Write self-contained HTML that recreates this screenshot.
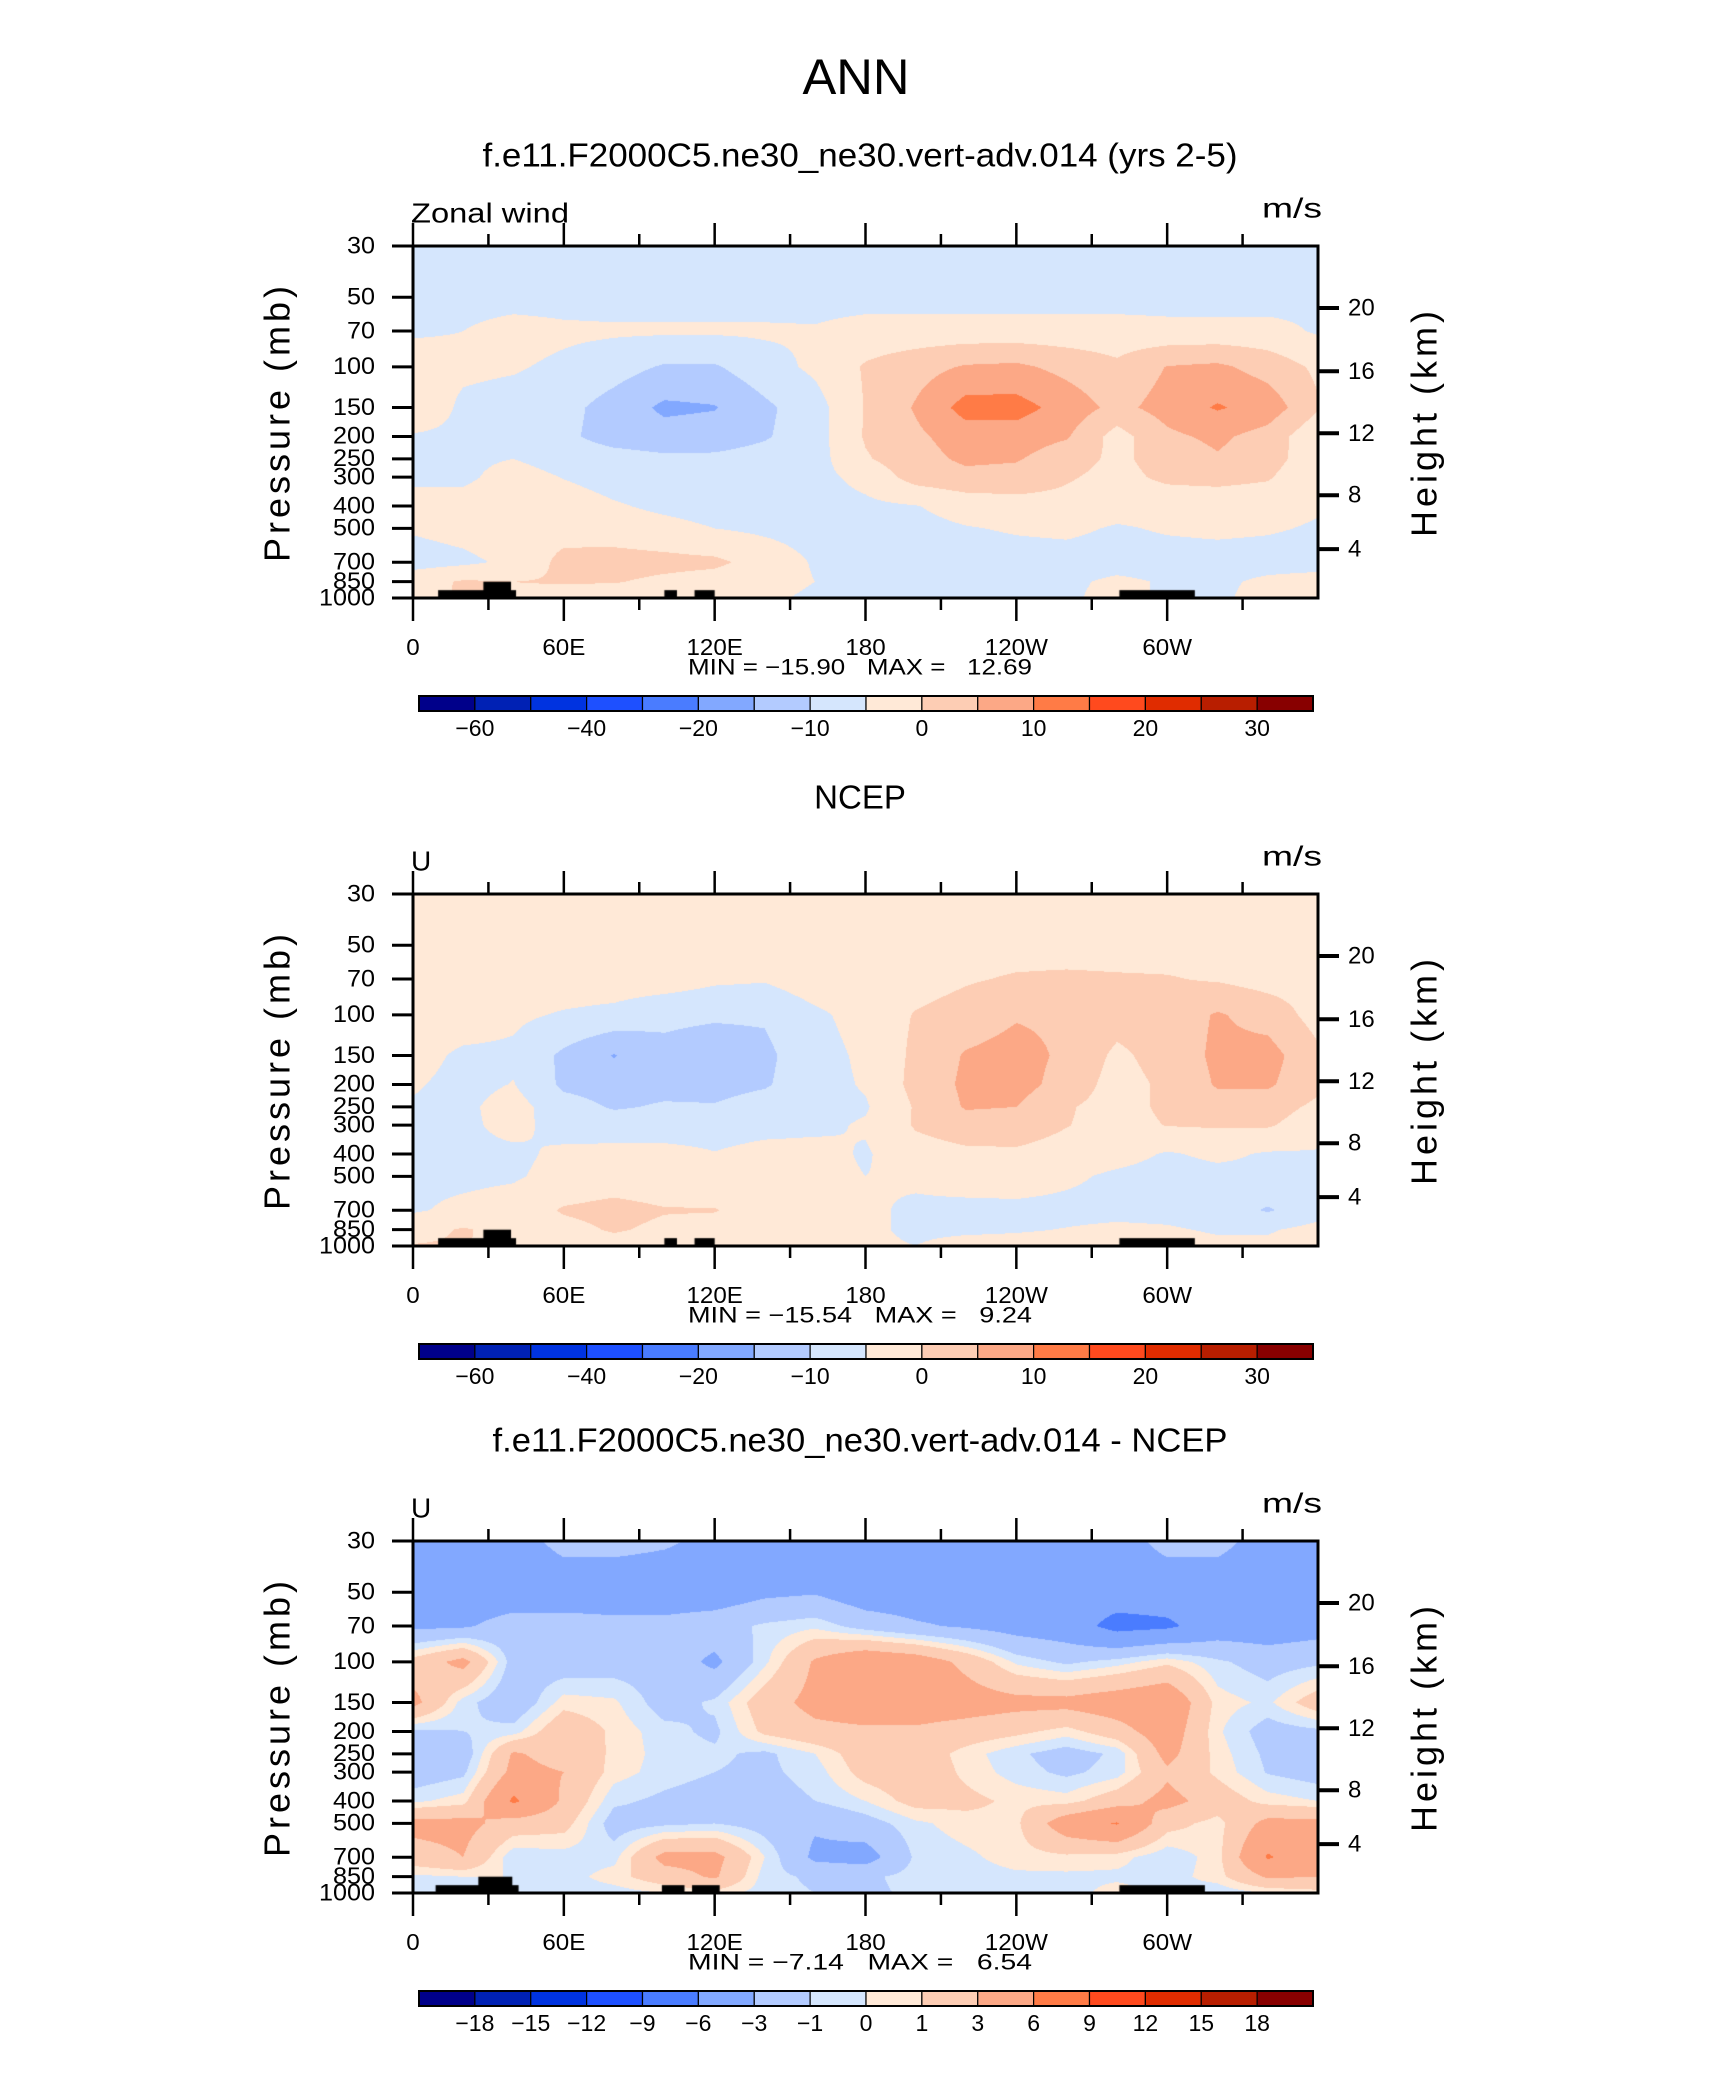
<!DOCTYPE html>
<html><head><meta charset="utf-8">
<style>
html,body{margin:0;padding:0;background:#fff;}
#wrap{position:relative;width:1710px;height:2074px;overflow:hidden;}
canvas{position:absolute;}
svg{position:absolute;left:0;top:0;}
text{font-family:"Liberation Sans",sans-serif;fill:#000;}
</style></head>
<body>
<div id="wrap">
<canvas id="c0" width="905" height="352" style="left:413px;top:246px"></canvas>
<canvas id="c1" width="905" height="352" style="left:413px;top:894px"></canvas>
<canvas id="c2" width="905" height="352" style="left:413px;top:1541px"></canvas>
<svg id="ov" width="1710" height="2074"></svg>
</div>
<script>
// ---- data ----
const lons = [0,20,40,60,80,100,120,140,160,180,200,220,240,260,280,300,320,340,360];
const levels = [30,50,70,100,150,200,250,300,400,500,700,850,1000];
const xTickLabels = ["0","60E","120E","180","120W","60W"];
const xTickLons = [0,60,120,180,240,300];
const pTickLabels = [30,50,70,100,150,200,250,300,400,500,700,850,1000];
const kmTicks = [20,16,12,8,4];
const kmFrac = [0.176,0.356,0.532,0.708,0.861];
const levelsMain = [-60,-50,-40,-30,-20,-15,-10,-5,0,5,10,15,20,25,30];
const labelsMain = ["-60","-40","-20","-10","0","10","20","30"];
const levelsDiff = [-18,-15,-12,-9,-6,-3,-1,0,1,3,6,9,12,15,18];
const labelsDiff = ["-18","-15","-12","-9","-6","-3","-1","0","1","3","6","9","12","15","18"];
const colors = ["#00008a","#0021b4","#0033e0","#1e50ff","#4a7cff","#82a8ff","#b3cbff","#d5e6fd","#ffe9d7","#fdcdb4","#fca886","#ff7b46","#ff4a1e","#e02c00","#b81e00","#880000"];
// topography blocks: [lonStart, lonEnd, topPressure]
const topoA = [[10,41,925],[28,39,850],[100,105,925],[112,120,925],[281,311,925]];
const topoB = [[9,42,925],[26,39.5,850],[99,108,925],[111,122,925],[281,315,925]];
const model = [
[-8,-8,-8,-8,-8,-8,-8,-8,-8,-8,-8,-8,-8,-8,-8,-8,-8,-8,-8],
[-6,-7,-7,-7,-7,-7,-7,-7,-7,-7,-7,-7,-7,-7,-7,-7,-7,-7,-6],
[-5.5,-5,-3,-4,-4.3,-4.3,-4.3,-4.3,-4.5,-3,-3,-3,-3,-3,-3,-3.5,-3.5,-3.5,-5.5],
[-3,-4,-4.5,-6,-8,-10.5,-10.5,-7,-4,0.5,3,5.5,6,3.5,1,5.2,6,3,-1],
[-1,-6,-7,-8.5,-12,-16,-15.3,-11,-7,0.3,5.5,12,12,8,3.5,7,10.5,8,0.5],
[-5.5,-6,-6.5,-9,-12,-13,-12.5,-10.5,-7,0.5,4,7.5,7.5,5.5,-2,4,6,3,-4],
[-6,-6,-5,-7,-8,-9,-9,-8,-7,-0.5,3,6,5.5,2,-1,2,4.5,2,-3],
[-6,-6,-3,-5.2,-7,-7.5,-7.5,-7,-6.5,-3.5,2,3.5,3,0.5,-1.5,1,1.5,0.5,-4],
[-3,-3,-2,-2.5,-4.5,-6,-7,-7,-7,-6,-5.2,-3,-2,-1.5,-3,-3,-3,-3,-4.5],
[-4.5,-3.5,-2,-2,-2.5,-3.5,-5,-6,-7,-7,-6.5,-5.3,-4.5,-4,-5.5,-4.5,-4,-4.5,-5.5],
[-7,-6,-4,1.5,2,1.5,1,-2,-5.5,-7,-7,-7.5,-7,-7,-7,-7,-7,-7,-7],
[-2,0.5,0,0.5,0.3,-1,-2,-3,-5,-6.5,-7,-9,-7,-6,-4,-5.5,-6,-4,-3],
[-3,1,-1,-3,-3,-3,-3.5,-4,-6,-7,-7,-7,-7,-6,-3,-6,-6,-3,-3]];
const ncep = [
[-2,-2,-2,-2,-3,-2,-2,-2,-2,-2,-2,-2,-2,-2,-2,-2,-2,-2,-2],
[-2,-2,-2,-2,-2,-2,-2,-2,-2,-2,-2,-2,-2,-2,-2,-2,-2,-2,-2],
[-2,-2,-2,-2,-2,-2,-4,-4.5,-2,-2,-2,-0.5,0.5,0.8,0.5,0.3,-0.5,-2,-2],
[-2,-2,-4,-5.5,-6.5,-9.2,-9.5,-9.5,-6,-3,0.3,2,4.5,4,2,2,5.5,3,-2],
[-3,-6,-6,-11,-15.3,-11,-12,-11,-7,-4,1,5.5,7,4,-1,2,6,7,1],
[-4.5,-6.5,-4.8,-11,-12,-11.5,-11.5,-10.5,-7,-4.5,1.5,6,7,3,-2,1,5.5,5.8,1],
[-5.5,-6,-3,-8,-10.5,-9.5,-9.7,-8,-6.5,-5.5,0.5,5.5,5,0.5,-2,1,3,2,-1],
[-6,-6,-3.5,-7,-7.5,-7.5,-7,-6.5,-6,-4.5,0.5,2.5,2.5,0.2,-2,0.2,0.5,0.5,-2.5],
[-5.5,-6,-6,-4,-3.5,-3.5,-4.8,-3.5,-3.5,-5.5,-2,-1,-0.8,-2,-3,-5.5,-4,-5.5,-5.5],
[-6,-6,-5.5,-3.5,-2.5,-3,-3,-3,-3.5,-5,-4,-2.5,-2,-4,-6,-7,-6.5,-6,-6],
[-5.5,-4,-3,0.5,1.5,0.3,0.2,-2,-3,-4,-6,-6.5,-6.5,-6.5,-6.5,-6.5,-7.5,-10.5,-7],
[-2,0.5,-2,-1.5,0.5,-1,-1.5,-1,-2.5,-4,-6,-6,-5.5,-4.8,-4,-4.5,-5.5,-5.5,-3.5],
[0.3,0.5,-2.5,-3,-2,-2,-1,-2,-3,-4,-5,-3,-3,-3,0.2,-3,-4,-4,-2]];
const diff = [
[-4,-4,-4,-2.3,-2.3,-2.7,-3.5,-4,-4,-4,-4,-4,-4,-4,-4,-2.3,-2.3,-4,-4],
[-4.5,-4.5,-4.5,-4.5,-4.5,-4.5,-4.5,-3.5,-3.2,-4.5,-4.5,-4.5,-4.5,-4.5,-4.5,-4.5,-4.5,-4.5,-4.5],
[-3.5,-3.3,-2,-2,-2.3,-2.3,-1.7,-0.75,-0.25,-1.7,-2.7,-3.3,-4,-4.5,-7,-6.5,-4.5,-4.5,-4],
[1.6,3.75,-1.7,-2,-1.8,-1.7,-3.5,-0.25,3.3,5.25,4.5,2.4,-0.25,-1.3,-0.5,0.7,-0.75,-1.7,-1.3],
[3.75,-0.5,-2.3,0.5,0.2,-1.7,-0.75,2,3.75,4.5,4.5,4.2,3.75,3.75,4.5,5.25,0.5,-0.25,2],
[-1.3,-1,-0.5,2.4,0.7,-0.6,-1.3,1.4,2.4,2.6,2.6,2,1.4,0.5,2,4.5,0.2,-1.7,-1.3],
[-1.7,-2,3.3,2,0.8,-0.5,-0.75,-1.3,0,2,2,0.5,-0.75,-1.7,-0.75,3.75,0.5,-1.3,-1.7],
[-2,-1.3,3.75,3,0.5,-0.5,-1,-1.3,-0.5,1.6,2.2,0.7,-0.5,-1.3,-0.5,2.6,0.7,-1.1,-1.7],
[-0.25,0.5,6.5,2.6,-0.75,-1.3,-1.7,-1.7,-1,0,1.6,1.4,0.7,0.5,2,3.75,2,0.5,0],
[3.75,3.75,2,1.6,-1.7,-1.3,-1,-1.7,-2.7,-1.7,-0.25,0.5,0.7,4.5,6.2,1.6,0.5,3.75,3.75],
[2,3,-0.75,-0.5,-0.4,3.75,3.75,0,-3.5,-4,-0.75,-0.25,0.5,0.7,0.4,-0.75,0.5,6.3,3.75],
[-0.25,0,0,-0.5,0.5,2,3.3,-0.5,-1.3,-1.3,-0.5,-0.5,-0.25,-0.25,-0.25,-0.5,0.5,3.3,3],
[-0.25,0,-0.25,-0.5,-0.5,0,0.5,-0.5,-1,-1.3,-0.75,-0.5,-0.5,-0.5,0.5,-0.25,-0.75,0,0.5]];

// ---- layout ----
const PX=413, PW=905, PH=352;
const panelTops=[246,894,1541];
const L30=Math.log(30), LR=Math.log(1000/30);
function fOfP(p){return (Math.log(p)-L30)/LR;}
function xOfLon(l){return PX+l/360*PW;}
const levF = levels.map(fOfP);

function binColor(v,lv){let k=0;while(k<lv.length&&v>=lv[k])k++;return colors[k];}
function hex2rgb(h){return [parseInt(h.substr(1,2),16),parseInt(h.substr(3,2),16),parseInt(h.substr(5,2),16)];}
function sample(grid,lon,f){
  let i=Math.min(lons.length-2,Math.floor(lon/20)); let tx=(lon-lons[i])/20;
  let j=0; while(j<levF.length-2 && f>levF[j+1]) j++;
  let ty=(f-levF[j])/(levF[j+1]-levF[j]); ty=Math.max(0,Math.min(1,ty));
  const a=grid[j][i],b=grid[j][i+1],c=grid[j+1][i],d=grid[j+1][i+1];
  return (a*(1-tx)+b*tx)*(1-ty)+(c*(1-tx)+d*tx)*ty;
}
function drawField(id,grid,lv,topo){
  const cv=document.getElementById(id), ctx=cv.getContext('2d');
  const img=ctx.createImageData(PW,PH);
  const cache={};
  for(let y=0;y<PH;y++){const f=(y+0.5)/PH;
    for(let x=0;x<PW;x++){const lon=(x+0.5)/PW*360;
      const h=binColor(sample(grid,lon,f),lv); const rgb=cache[h]||(cache[h]=hex2rgb(h));
      const o=(y*PW+x)*4; img.data[o]=rgb[0];img.data[o+1]=rgb[1];img.data[o+2]=rgb[2];img.data[o+3]=255;}}
  ctx.putImageData(img,0,0);
  ctx.fillStyle="#000";
  topo.forEach(t=>{const x0=t[0]/360*PW,x1=t[1]/360*PW,y0=fOfP(t[2])*PH;ctx.fillRect(x0,y0,x1-x0,PH-y0);});
}
drawField('c0',model,levelsMain,topoA);
drawField('c1',ncep,levelsMain,topoA);
drawField('c2',diff,levelsDiff,topoB);

// ---- overlay ----
const NS="http://www.w3.org/2000/svg", ov=document.getElementById('ov');
function el(tag,attrs,parent){const e=document.createElementNS(NS,tag);for(const k in attrs)e.setAttribute(k,attrs[k]);(parent||ov).appendChild(e);return e;}
function txt(s,x,y,size,anchor,parent,extra){const t=el('text',Object.assign({x:x,y:y,'font-size':size,'text-anchor':anchor||'middle','dominant-baseline':'central'},extra||{}),parent);t.textContent=s;return t;}
function sx(x,y,s){return `translate(${x},${y}) scale(${s},1) translate(${-x},${-y})`;}

const ann=txt("ANN",856,77,50,'middle',ov,{textLength:107,lengthAdjust:'spacingAndGlyphs'});



const titles=["f.e11.F2000C5.ne30_ne30.vert-adv.014 (yrs 2-5)","NCEP","f.e11.F2000C5.ne30_ne30.vert-adv.014 - NCEP"];
const titleY=[155,797,1440];
const titleLen=[755,0,735];
const leftLbl=["Zonal wind","U","U"];
const leftLen=[158,0,0];
const minmax=[["-15.90","12.69"],["-15.54","9.24"],["-7.14","6.54"]];
const cbTopOff=450;

for(let pi=0;pi<3;pi++){
  const T=panelTops[pi], B=T+PH;
  const g=el('g',{});
  
  
  const tt=txt(titles[pi],860,titleY[pi],33,'middle',g, titleLen[pi]?{textLength:titleLen[pi],lengthAdjust:'spacingAndGlyphs'}:{});
  
  
  const ll=txt(leftLbl[pi],PX-2,T-33,28,'start',g,leftLen[pi]?{textLength:leftLen[pi],lengthAdjust:'spacingAndGlyphs'}:{});
  
  
  const ms=txt("m/s",PX+PW+4,T-38,28,'end',g,{textLength:60,lengthAdjust:'spacingAndGlyphs'});
  
  
  const fr=el('rect',{x:PX,y:T,width:PW,height:PH,fill:'none',stroke:'#000','stroke-width':3},g);
  
  
  for(let l=0;l<=330;l+=30){
    const x=xOfLon(l), major=(l%60===0), len=major?23:12;
    el('line',{x1:x,y1:T,x2:x,y2:T-len,stroke:'#000','stroke-width':2.5},g);
    el('line',{x1:x,y1:B,x2:x,y2:B+len,stroke:'#000','stroke-width':2.5},g);
  }
  xTickLons.forEach((l,k)=>{
    const x=xOfLon(l);
    const t=txt(xTickLabels[k],x,B+49,23,'middle',g,{'transform':sx(x,B+49,1.05)});
    
    
  });
  pTickLabels.forEach(p=>{
    const y=T+fOfP(p)*PH;
    el('line',{x1:PX,y1:y,x2:PX-21,y2:y,stroke:'#000','stroke-width':3},g);
    const t=txt(String(p),375,y,24,'end',g,{'transform':sx(375,y,1.05)});
    
    
  });
  kmTicks.forEach((km,k)=>{
    const y=T+kmFrac[k]*PH;
    el('line',{x1:PX+PW,y1:y,x2:PX+PW+21,y2:y,stroke:'#000','stroke-width':4},g);
    const t=txt(String(km),PX+PW+30,y,24,'start',g,{'transform':sx(PX+PW+30,y,1.0)});
    
    
  });
  const cy=T+PH/2;
  const ya=txt("Pressure  (mb)",277,cy,36,'middle',g,{'transform':`rotate(-90 277 ${cy})`,'letter-spacing':'4'});
  
  
  const yb=txt("Height  (km)",1424,cy,36,'middle',g,{'transform':`rotate(-90 1424 ${cy})`,'letter-spacing':'4'});
  
  
  const mm=txt(`MIN = ${minmax[pi][0].replace('-','\u2212')}   MAX =   ${minmax[pi][1]}`,860,B+69,22,'middle',g,{textLength:344,lengthAdjust:'spacingAndGlyphs',style:'white-space:pre'});
  
  
  const cbY=T+cbTopOff, cbX=419, cbW=894, bw=cbW/16;
  const cb=el('g',{},g);
  
  
  colors.forEach((c,k)=>{el('rect',{x:cbX+k*bw,y:cbY,width:bw,height:15,fill:c,stroke:'#000','stroke-width':1.2},cb);});
  el('rect',{x:cbX,y:cbY,width:cbW,height:15,fill:'none',stroke:'#000','stroke-width':2},cb);
  if(pi<2){
    labelsMain.forEach((s,k)=>{const b=[1,3,5,7,9,11,13,15][k];
      const x=cbX+b*bw; const t=txt(s.replace('-','\u2212'),x,cbY+32,23,'middle',cb,{'transform':sx(x,cbY+32,1.0)});
      
      });
  } else {
    labelsDiff.forEach((s,k)=>{const x=cbX+(k+1)*bw; const t=txt(s.replace('-','\u2212'),x,cbY+32,23,'middle',cb,{'transform':sx(x,cbY+32,1.0)});
      
      });
  }
}
</script>
</body></html>
